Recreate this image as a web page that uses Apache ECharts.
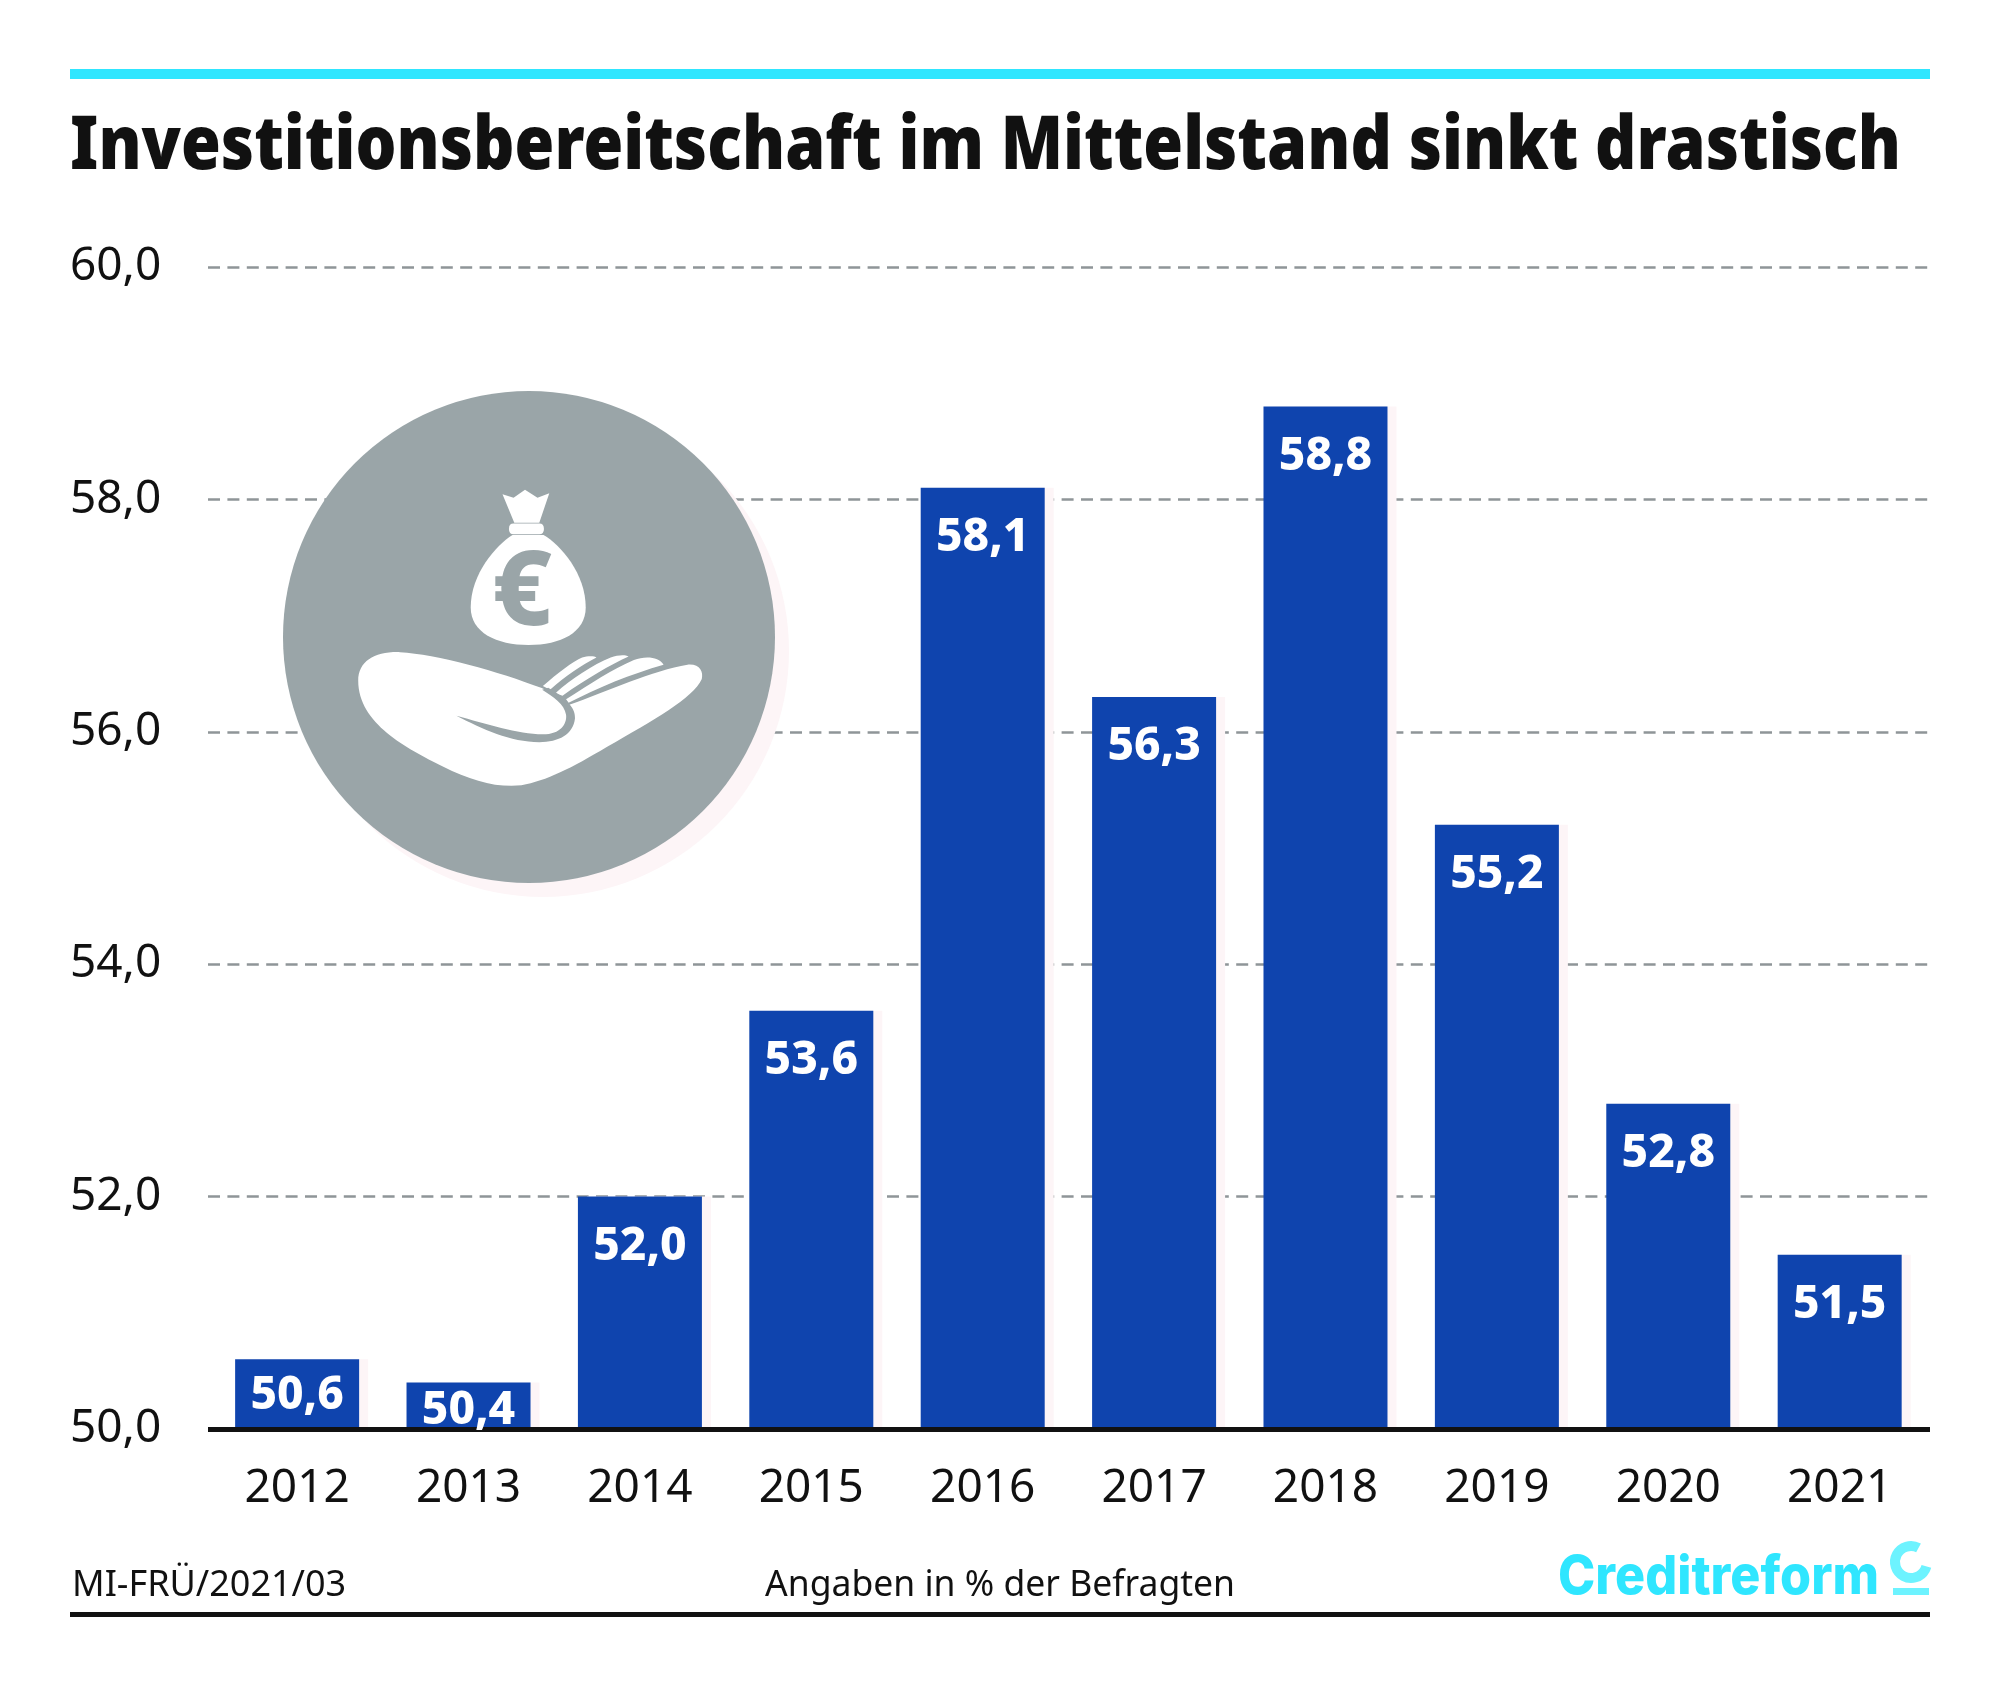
<!DOCTYPE html>
<html>
<head>
<meta charset="utf-8">
<style>
  html, body { margin: 0; padding: 0; background: #fff; }
  #chart { width: 2001px; height: 1682px; }
</style>
<script src="https://cdn.jsdelivr.net/npm/echarts@6/dist/echarts.min.js"></script>
</head>
<body>
<div id="chart"></div>
<script>
const years = [2012, 2013, 2014, 2015, 2016, 2017, 2018, 2019, 2020, 2021]
const values = [50.6, 50.4, 52.0, 53.6, 58.1, 56.3, 58.8, 55.2, 52.8, 51.5]
const titleText = 'Investitionsbereitschaft im Mittelstand sinkt drastisch'
const sourceText = 'MI-FRÜ/2021/03'
const noteText = 'Angaben in % der Befragten'
const logoText = 'Creditreform'

const CYAN = '#2fe6ff'
const BLUE = '#0f44ae'
const INK = '#111111'
const ICON_GREY = '#9aa5a8'
const BASE_FONT = '"Noto Sans", sans-serif'

// the first two labels sit closer to the bar top, the bars are too short
const labelDistance = { 2012: 14, 2013: 5 }

const formatNumber = v => v.toFixed(1).replace('.', ',')

// squeeze a heavy font into the width the text has in the original
function fitScale(text, font, targetWidth) {
  const ctx = document.createElement('canvas').getContext('2d')
  ctx.font = font
  return targetWidth / ctx.measureText(text).width
}

// money bag and hand, drawn in a 2.8x local space
const iconPaths = {
  tuft: 'M707,348 L738,358 L770,335 L805,358 L838,345 L810,428 L740,428 Z',
  knot: 'M738,430 L810,430 Q823,430 823,445 Q823,460 810,460 L738,460 Q725,460 725,445 Q725,430 738,430 Z',
  bag: 'M735,462 L822,462 C870,490 940,570 940,665 C940,735 870,770 780,770 C690,770 618,735 618,665 C618,570 690,490 735,462 Z',
  palm: 'M303,870 C303,815 350,788 420,790 C520,795 700,845 815,890 C850,905 880,920 892,938 C1000,900 1130,840 1225,825 C1260,822 1270,845 1265,865 C1240,920 1130,980 1000,1055 C900,1115 830,1150 760,1163 C690,1170 620,1150 540,1110 C440,1060 303,990 303,870 Z',
  finger1: 'M820,885 C860,850 905,815 930,805 C945,800 965,800 970,805 C930,825 880,860 840,895 Z',
  finger2: 'M855,905 C900,865 960,825 1010,805 C1030,798 1050,797 1060,802 C1010,825 940,865 875,912 Z',
  finger3: 'M885,922 C950,880 1020,835 1075,812 C1105,800 1145,802 1158,825 C1070,850 970,890 892,932 Z',
  crease: 'M578,968 C660,990 750,1020 820,1020 C870,1020 888,990 885,965 C880,935 850,915 818,895 L835,890 C880,915 912,945 910,975 C905,1020 865,1042 810,1042 C730,1042 650,1005 578,968 Z'
}

function renderIcon() {
  const whiteParts = ['tuft', 'knot', 'bag', 'palm', 'finger1', 'finger2', 'finger3']
  const children = whiteParts.map(key => ({
    type: 'path',
    shape: { pathData: iconPaths[key] },
    style: { fill: '#ffffff' }
  }))
  children.push({
    type: 'path',
    shape: { pathData: iconPaths.crease },
    style: { fill: ICON_GREY }
  })
  children.push({
    type: 'text',
    style: {
      text: '€',
      x: 762,
      y: 630,
      align: 'center',
      verticalAlign: 'middle',
      fill: ICON_GREY,
      font: '800 290px "Noto Sans", sans-serif'
    }
  })
  return {
    type: 'group',
    children: [
      { type: 'circle', shape: { cx: 543, cy: 651, r: 246 }, style: { fill: '#fdf5f7' } },
      { type: 'circle', shape: { cx: 529, cy: 637, r: 246 }, style: { fill: ICON_GREY } },
      { type: 'group', x: 250, y: 370, scaleX: 1 / 2.8, scaleY: 1 / 2.8, children }
    ]
  }
}

const chart = echarts.init(document.getElementById('chart'), null, { renderer: 'canvas' })

const titleFont = '900 74px "Noto Sans"'
const logoFont = '800 54px Inter'

const option = {
  backgroundColor: '#ffffff',
  animation: false,
  grid: { left: 208, top: 267, width: 1722, height: 1162 },
  xAxis: {
    type: 'value',
    min: 2011.48,
    max: 2021.527,
    z: 3,
    splitLine: { show: false },
    axisTick: { show: false },
    axisLine: { show: true, lineStyle: { color: INK, width: 5, cap: 'butt' } },
    axisLabel: {
      customValues: years,
      formatter: v => String(v),
      margin: 37,
      fontFamily: BASE_FONT,
      fontSize: 46,
      color: INK
    }
  },
  yAxis: {
    type: 'value',
    min: 50,
    max: 60,
    interval: 2,
    axisLine: { show: false },
    axisTick: { show: false },
    axisLabel: {
      formatter: formatNumber,
      margin: 138,
      align: 'left',
      fontFamily: BASE_FONT,
      fontSize: 46,
      color: INK
    },
    splitLine: { lineStyle: { color: '#8f9598', width: 2.5, type: [12, 7.4] } }
  },
  series: [
    {
      type: 'bar',
      barWidth: 124,
      z: 2,
      data: years.map((y, i) => [y, values[i]]),
      itemStyle: { color: BLUE, shadowColor: '#fdf5f7', shadowBlur: 0, shadowOffsetX: 9 }
    },
    {
      // label carrier, has to paint above the axis line
      type: 'bar',
      barWidth: 124,
      barGap: '-100%',
      z: 4,
      itemStyle: { color: 'transparent' },
      data: years.map((y, i) => ({
        value: [y, values[i]],
        label: { distance: labelDistance[y] ?? 27 }
      })),
      label: {
        show: true,
        position: 'insideTop',
        formatter: p => formatNumber(p.value[1]),
        fontFamily: BASE_FONT,
        fontWeight: 800,
        fontSize: 46,
        color: '#ffffff'
      }
    },
    {
      type: 'custom',
      coordinateSystem: 'none',
      silent: true,
      z: 5,
      data: [0],
      renderItem: renderIcon
    }
  ],
  graphic: [
    { type: 'rect', shape: { x: 70, y: 69, width: 1860, height: 10 }, style: { fill: CYAN } },
    { type: 'rect', shape: { x: 70, y: 1612, width: 1860, height: 5 }, style: { fill: INK } },
    {
      type: 'text', x: 70, y: 148,
      scaleX: fitScale(titleText, titleFont, 1831),
      style: { text: titleText, fill: INK, font: titleFont + ', sans-serif', verticalAlign: 'middle' }
    },
    {
      type: 'text', x: 72, y: 1586,
      style: { text: sourceText, fill: INK, fontFamily: BASE_FONT, fontSize: 36, verticalAlign: 'middle' }
    },
    {
      type: 'text', x: 1000, y: 1586,
      style: { text: noteText, fill: INK, fontFamily: BASE_FONT, fontSize: 35.5, align: 'center', verticalAlign: 'middle' }
    },
    {
      type: 'text', x: 1558, y: 1578,
      scaleX: fitScale(logoText, logoFont, 321),
      style: { text: logoText, fill: CYAN, font: logoFont + ', sans-serif', verticalAlign: 'middle' }
    },
    // logo mark, an open ring over a short bar
    {
      type: 'arc',
      shape: { cx: 1911, cy: 1562, r: 16, startAngle: -1.08, endAngle: 0.28, clockwise: false },
      style: { fill: null, stroke: '#6df3ff', lineWidth: 10 }
    },
    { type: 'rect', shape: { x: 1893, y: 1588, width: 36, height: 7 }, style: { fill: '#6df3ff' } }
  ]
}

chart.setOption(option)
</script>
</body>
</html>
